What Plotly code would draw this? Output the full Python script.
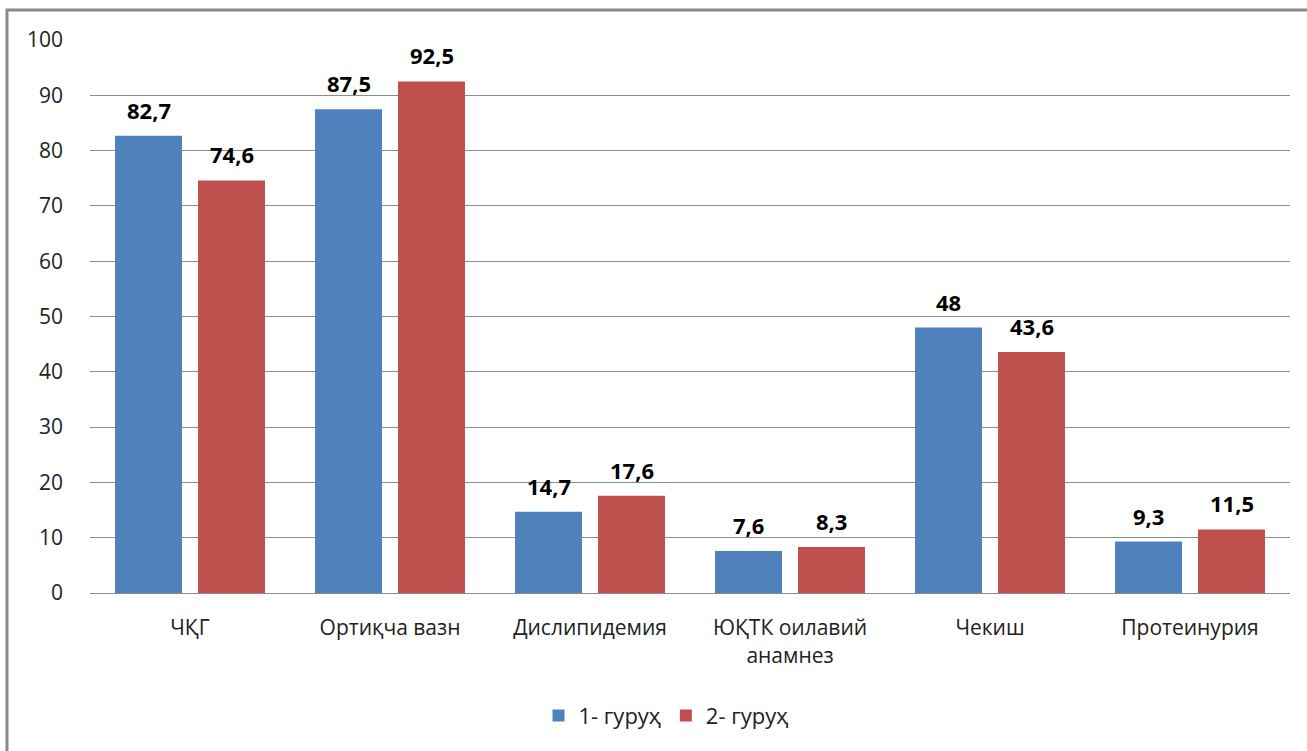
import plotly.graph_objects as go

categories = ["ЧҚГ", "Ортиқча вазн", "Дислипидемия", "ЮҚТК оилавий<br>анамнез", "Чекиш", "Протеинурия"]
group1 = [82.7, 87.5, 14.7, 7.6, 48, 9.3]
group2 = [74.6, 92.5, 17.6, 8.3, 43.6, 11.5]
series_names = ["1- гуруҳ", "2- гуруҳ"]
colors = ["#4F81BD", "#C0504D"]

FONT = "Open Sans"
FS = 21

def fmt(v):
    s = f"{v:g}"
    return s.replace(".", ",")

fig = go.Figure()
for name, vals, col in zip(series_names, [group1, group2], colors):
    fig.add_trace(go.Bar(x=categories, y=vals, name=name, marker=dict(color=col, line=dict(width=0))))

annotations = []
for i, vals in enumerate([group1, group2]):
    shift = -41.5 if i == 0 else 41.5
    for c, v in zip(categories, vals):
        annotations.append(dict(x=c, y=v, xref="x", yref="y", text="<b>" + fmt(v) + "</b>",
                                showarrow=False, xshift=shift, yshift=9, yanchor="bottom",
                                font=dict(family=FONT, size=22, color="#000000")))

fig.update_layout(
    width=1307, height=751,
    margin=dict(l=90, r=17, t=40, b=158),
    paper_bgcolor="white", plot_bgcolor="white",
    barmode="group", bargap=0.17, bargroupgap=0.193,
    font=dict(family=FONT, size=FS, color="#222222"),
    showlegend=True,
    legend=dict(orientation="h", x=0.48, xanchor="center", y=-0.222, yanchor="middle",
                font=dict(family=FONT, size=FS + 1, color="#222222"), itemwidth=30, traceorder="normal"),
    annotations=annotations,
    shapes=[dict(type="rect", xref="paper", yref="paper", x0=(7 - 90) / 1200, x1=(1320 - 90) / 1200,
                 y0=(593 - 770) / 553, y1=(593 - 10) / 553, line=dict(color="#8a8a8a", width=3),
                 fillcolor="rgba(0,0,0,0)", layer="below")],
)
fig.update_yaxes(range=[0, 100], dtick=10, showgrid=True, gridcolor="#8c8c8c", gridwidth=1,
                 zeroline=False, showline=False, ticks="", ticklabelstandoff=26,
                 tickfont=dict(family=FONT, size=FS, color="#222222"))
fig.update_xaxes(showline=True, linecolor="#8c8c8c", linewidth=1, ticks="", ticklabelstandoff=16,
                 tickfont=dict(family=FONT, size=FS, color="#222222"))

fig.write_html("out.html")
